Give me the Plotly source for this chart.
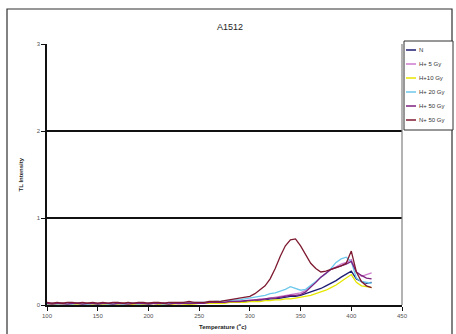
import plotly.graph_objects as go

temps = [100, 105, 110, 115, 120, 125, 130, 135, 140, 145, 150, 155, 160, 165, 170, 175, 180,
         185, 190, 195, 200, 205, 210, 215, 220, 225, 230, 235, 240, 245, 250, 255, 260, 265,
         270, 275, 280, 285, 290, 295, 300, 305, 310, 315, 320, 325, 330, 335, 340, 345, 350,
         355, 360, 365, 370, 375, 380, 385, 390, 395, 400, 405, 410, 415, 420]

s_n = [0.02, 0.01, 0.02, 0.01, 0.02, 0.01, 0.02, 0.02, 0.01, 0.02, 0.01,
       0.02, 0.01, 0.01, 0.02, 0.01, 0.02, 0.01, 0.02, 0.01, 0.02, 0.02, 0.01, 0.02, 0.01, 0.02, 0.02, 0.02, 0.01, 0.02, 0.02,
       0.02, 0.02, 0.02, 0.03, 0.03, 0.03, 0.04, 0.04, 0.04, 0.05,
       0.05, 0.06, 0.06, 0.07, 0.07, 0.08, 0.09, 0.10, 0.10, 0.11, 0.13, 0.15, 0.17, 0.19, 0.22, 0.25, 0.28, 0.32, 0.36, 0.39, 0.30, 0.27, 0.25, 0.26]

s_h5 = [0.01, 0.02, 0.01, 0.01, 0.02, 0.01, 0.01, 0.02, 0.01, 0.01, 0.02,
        0.01, 0.01, 0.02, 0.01, 0.01, 0.02, 0.01, 0.01, 0.02, 0.01, 0.02, 0.01, 0.01, 0.02, 0.02, 0.01, 0.02, 0.02, 0.02, 0.02,
        0.02, 0.02, 0.03, 0.03, 0.03, 0.04, 0.04, 0.05, 0.05, 0.06,
        0.06, 0.07, 0.07, 0.08, 0.09, 0.10, 0.11, 0.12, 0.13, 0.14, 0.17, 0.21, 0.26, 0.32, 0.37, 0.41, 0.44, 0.47, 0.49, 0.52, 0.38, 0.33, 0.35, 0.37]

s_h10 = [0.01, 0.01, 0.01, 0.02, 0.01, 0.01, 0.01, 0.01, 0.02, 0.01, 0.01,
         0.01, 0.01, 0.01, 0.01, 0.02, 0.01, 0.01, 0.01, 0.01, 0.01, 0.02, 0.01, 0.01, 0.01, 0.01, 0.02, 0.01, 0.01, 0.01, 0.02,
         0.02, 0.02, 0.02, 0.02, 0.02, 0.03, 0.03, 0.03, 0.03, 0.04,
         0.04, 0.04, 0.05, 0.05, 0.06, 0.06, 0.07, 0.07, 0.08, 0.09, 0.10, 0.11, 0.13, 0.15, 0.17, 0.20, 0.23, 0.27, 0.31, 0.35, 0.26, 0.22, 0.21, 0.20]

s_h20 = [0.01, 0.02, 0.01, 0.02, 0.01, 0.01, 0.02, 0.01, 0.01, 0.02, 0.01,
         0.02, 0.01, 0.01, 0.02, 0.01, 0.02, 0.02, 0.01, 0.02, 0.01, 0.02, 0.02, 0.01, 0.02, 0.02, 0.02, 0.03, 0.02, 0.03, 0.03,
         0.03, 0.03, 0.04, 0.04, 0.05, 0.05, 0.06, 0.06, 0.07, 0.08,
         0.09, 0.10, 0.11, 0.13, 0.14, 0.16, 0.18, 0.21, 0.19, 0.17, 0.18, 0.22, 0.27, 0.32, 0.36, 0.42, 0.49, 0.53, 0.55, 0.50, 0.31, 0.27, 0.26, 0.25]

s_h50 = [0.02, 0.01, 0.02, 0.02, 0.01, 0.02, 0.02, 0.01, 0.02, 0.02, 0.01,
         0.02, 0.02, 0.01, 0.02, 0.02, 0.01, 0.02, 0.02, 0.02, 0.01, 0.02, 0.02, 0.02, 0.01, 0.02, 0.02, 0.02, 0.02, 0.02, 0.02,
         0.02, 0.03, 0.03, 0.03, 0.03, 0.04, 0.04, 0.04, 0.05, 0.05,
         0.06, 0.06, 0.07, 0.08, 0.08, 0.09, 0.10, 0.11, 0.11, 0.12, 0.15, 0.20, 0.26, 0.32, 0.37, 0.41, 0.43, 0.45, 0.47, 0.50, 0.38, 0.34, 0.31, 0.30]

s_n50 = [0.03, 0.02, 0.03, 0.02, 0.03, 0.03, 0.02, 0.03, 0.02, 0.03, 0.02,
         0.03, 0.02, 0.03, 0.03, 0.02, 0.03, 0.02, 0.03, 0.03, 0.02, 0.03, 0.03, 0.02, 0.03, 0.03, 0.03, 0.03, 0.04, 0.03, 0.03,
         0.03, 0.04, 0.04, 0.04, 0.05, 0.06, 0.07, 0.08, 0.09, 0.10,
         0.13, 0.17, 0.22, 0.30, 0.42, 0.56, 0.68, 0.75, 0.76, 0.68, 0.58, 0.48, 0.42, 0.38, 0.39, 0.41, 0.43, 0.45, 0.48, 0.62, 0.38, 0.27, 0.22, 0.20]

series_names = ["N", "H+ 5 Gy", "H+10 Gy", "H+ 20 Gy", "H+ 50 Gy", "N+ 50 Gy"]
series_vals = [s_n, s_h5, s_h10, s_h20, s_h50, s_n50]
series_colors = ["#1c1c72", "#cc7acc", "#e6e600", "#6cc8ec", "#7c2080", "#7d1a30"]

x_ticks = [100, 150, 200, 250, 300, 350, 400, 450]
y_ticks = [0, 1, 2, 3]

FONT = "Arial, Liberation Sans, sans-serif"
W, H = 456, 334
L, R, T, B = 47, 54, 44, 29
PW, PH = W - L - R, H - T - B


def px(xp):
    return (xp - L) / PW


def py(yp):
    return (T + PH - yp) / PH


fig = go.Figure()
for name, vals, col in zip(series_names, series_vals, series_colors):
    fig.add_trace(go.Scatter(x=temps, y=vals, mode="lines", name=name,
                             line=dict(color=col, width=1.3), showlegend=False))

shapes = []
annotations = []
# outer chart border
shapes.append(dict(type="rect", xref="paper", yref="paper",
                   x0=px(7), x1=px(452), y0=py(336), y1=py(9),
                   line=dict(color="#303030", width=1.2), fillcolor="rgba(0,0,0,0)", layer="below"))
# right plot border (gray)
shapes.append(dict(type="line", xref="paper", yref="paper", x0=1, x1=1, y0=0, y1=1,
                   line=dict(color="#808080", width=1.2)))
# legend box
shapes.append(dict(type="rect", xref="paper", yref="paper",
                   x0=px(404), x1=px(453), y0=py(130), y1=py(41),
                   line=dict(color="#303030", width=1), fillcolor="white"))
for i, (name, col) in enumerate(zip(series_names, series_colors)):
    yy = 50 + i * 14
    shapes.append(dict(type="line", xref="paper", yref="paper",
                       x0=px(406), x1=px(416), y0=py(yy), y1=py(yy),
                       line=dict(color=col, width=1.5)))
    annotations.append(dict(xref="paper", yref="paper", x=px(417), y=py(yy), text=name,
                            showarrow=False, xanchor="left", yanchor="middle",
                            font=dict(family=FONT, size=6, color="#333")))

annotations.append(dict(xref="paper", yref="paper", x=px(230), y=py(27), text="A1512",
                        showarrow=False, xanchor="center", yanchor="middle",
                        font=dict(family=FONT, size=9, color="#222")))
annotations.append(dict(xref="paper", yref="paper", x=px(222), y=py(326),
                        text="<b>Temperature (<sup>o</sup>c)</b>",
                        showarrow=False, xanchor="center", yanchor="middle",
                        font=dict(family=FONT, size=6, color="#222")))
annotations.append(dict(xref="paper", yref="paper", x=px(20), y=0.5,
                        text="<b>TL Intensity</b>", textangle=-90,
                        showarrow=False, xanchor="center", yanchor="middle",
                        font=dict(family=FONT, size=6, color="#222")))

fig.update_layout(
    width=W, height=H,
    margin=dict(l=L, r=R, t=T, b=B, autoexpand=False),
    paper_bgcolor="white", plot_bgcolor="white",
    font=dict(family=FONT, size=6, color="#444"),
    shapes=shapes, annotations=annotations,
    showlegend=False,
)
fig.update_xaxes(range=[100, 450], tickvals=x_ticks, ticktext=[str(v) for v in x_ticks],
                 showgrid=False, zeroline=False, showline=True, linecolor="#111", linewidth=1.5,
                 ticks="outside", ticklen=4, tickcolor="#111", tickwidth=1,
                 tickfont=dict(family=FONT, size=6, color="#555"))
fig.update_yaxes(range=[0, 3], tickvals=y_ticks, ticktext=[str(v) for v in y_ticks],
                 showgrid=True, gridcolor="#111", gridwidth=1.5, zeroline=False,
                 showline=True, linecolor="#111", linewidth=1.5,
                 ticks="outside", ticklen=4, tickcolor="#111", tickwidth=1,
                 tickfont=dict(family=FONT, size=6, color="#555"))

fig.write_html("out.html", config={"displayModeBar": False},
               post_script="document.body.style.margin='0';document.body.style.overflow='hidden';")
